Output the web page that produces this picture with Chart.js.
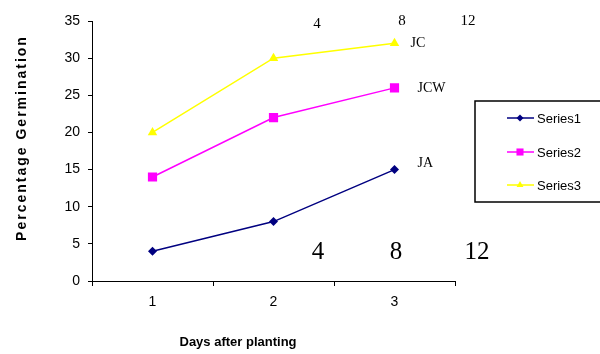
<!DOCTYPE html>
<html>
<head>
<meta charset="utf-8">
<script src="https://cdn.jsdelivr.net/npm/chart.js@4/dist/chart.umd.min.js"></script>
<style>
  html, body { margin: 0; padding: 0; background: #fff; }
  #wrap { width: 600px; height: 354px; }
</style>
</head>
<body>
<div id="wrap"><canvas id="c" width="600" height="354"></canvas></div>
<script>
// Days after planting (category axis)
const days = ['1', '2', '3'];

// Percentage germination per series
const series1 = [4, 8, 15];
const series2 = [14, 22, 26];
const series3 = [20, 30, 32];

const seriesNames = ['Series1', 'Series2', 'Series3'];
const seriesColors = ['#000080', '#FF00FF', '#FFFF00'];
const seriesMarkers = ['rectRot', 'rect', 'triangle'];
const markerRadius = [4.5, 6.5, 5.5];

// Labels at the end of each line
const endLabels = ['JA', 'JCW', 'JC'];

// Free-standing figure annotations
const topNotes = ['4', '8', '12'];
const bottomNotes = ['4', '8', '12'];

const yTicks = { min: 0, max: 35, step: 5 };

const SANS = '"Liberation Sans", Arial, sans-serif';
const SERIF = '"Liberation Serif", "Times New Roman", serif';

const datasets = [series1, series2, series3].map((vals, i) => ({
  label: seriesNames[i],
  data: vals,
  borderColor: seriesColors[i],
  backgroundColor: seriesColors[i],
  pointStyle: seriesMarkers[i],
  pointRadius: markerRadius[i],
  pointHoverRadius: markerRadius[i],
  pointBorderWidth: 0,
  borderWidth: 1.5,
  tension: 0,
  fill: false
}));

// Draws axis titles, the boxed legend and the text annotations
const decorations = {
  id: 'decorations',
  afterDraw(chart) {
    const ctx = chart.ctx;
    const xs = chart.scales.x, ys = chart.scales.y;
    ctx.save();
    ctx.fillStyle = '#000';
    ctx.textBaseline = 'middle';

    // Y axis title
    ctx.save();
    ctx.translate(22, 138);
    ctx.rotate(-Math.PI / 2);
    ctx.font = 'bold 14px ' + SANS;
    ctx.textAlign = 'center';
    ctx.letterSpacing = '2px';
    ctx.fillText('Percentage Germination', 0, 0);
    ctx.restore();

    // X axis title
    ctx.font = 'bold 13px ' + SANS;
    ctx.textAlign = 'center';
    ctx.fillText('Days after planting', 238, 342);

    // End-of-line labels, placed beside the last point of each series
    ctx.font = '14px ' + SERIF;
    ctx.textAlign = 'left';
    const last = days.length - 1;
    const lastX = xs.getPixelForValue(last);
    const endOffsets = [[23, -6], [23, 0], [16, 0]];
    [series1, series2, series3].forEach((vals, i) => {
      const py = ys.getPixelForValue(vals[last]);
      ctx.fillText(endLabels[i], lastX + endOffsets[i][0], py + endOffsets[i][1]);
    });

    // Top row of notes
    ctx.font = '15px ' + SERIF;
    ctx.textAlign = 'center';
    const topPos = [[317, 24], [402, 21], [468, 21]];
    topNotes.forEach((t, i) => ctx.fillText(t, topPos[i][0], topPos[i][1]));

    // Lower row of notes
    ctx.font = '25px ' + SERIF;
    const botPos = [[318, 252], [396, 252], [477, 252]];
    bottomNotes.forEach((t, i) => ctx.fillText(t, botPos[i][0], botPos[i][1]));

    // Legend box
    ctx.lineWidth = 1.5;
    ctx.strokeStyle = '#000';
    ctx.strokeRect(475, 101, 140, 101);
    const rowY = [118, 152, 185];
    chart.data.datasets.forEach((ds, i) => {
      ctx.strokeStyle = ds.borderColor;
      ctx.lineWidth = 1.5;
      ctx.beginPath();
      ctx.moveTo(507, rowY[i]);
      ctx.lineTo(534, rowY[i]);
      ctx.stroke();
      ctx.fillStyle = ds.backgroundColor;
      Chart.helpers.drawPoint(ctx, {
        pointStyle: ds.pointStyle,
        radius: [3.5, 5, 4][i],
        rotation: 0,
        borderWidth: 0
      }, 520, rowY[i]);
      ctx.fillStyle = '#000';
      ctx.font = '13px ' + SANS;
      ctx.textAlign = 'left';
      ctx.fillText(ds.label, 537, rowY[i] + 1);
    });
    ctx.restore();
  }
};

new Chart(document.getElementById('c'), {
  type: 'line',
  data: { labels: days, datasets },
  options: {
    responsive: false,
    animation: false,
    devicePixelRatio: 1,
    layout: { padding: { top: 21, right: 145, left: 0, bottom: 0 } },
    plugins: {
      legend: { display: false },
      tooltip: { enabled: false }
    },
    scales: {
      x: {
        type: 'category',
        offset: true,
        afterFit: s => { s.height = 73; },
        grid: {
          offset: true,
          drawOnChartArea: false,
          drawTicks: true,
          tickLength: 5,
          color: '#000'
        },
        border: { display: true, color: '#000', width: 1 },
        ticks: {
          color: '#000',
          font: { family: SANS, size: 14 },
          padding: 8
        }
      },
      y: {
        min: yTicks.min,
        max: yTicks.max,
        afterFit: s => { s.width = 92; },
        grid: {
          drawOnChartArea: false,
          drawTicks: true,
          tickLength: 4,
          color: '#000'
        },
        border: { display: true, color: '#000', width: 1 },
        ticks: {
          stepSize: yTicks.step,
          color: '#000',
          font: { family: SANS, size: 14 },
          padding: 8
        }
      }
    }
  },
  plugins: [decorations]
});
</script>
</body>
</html>
